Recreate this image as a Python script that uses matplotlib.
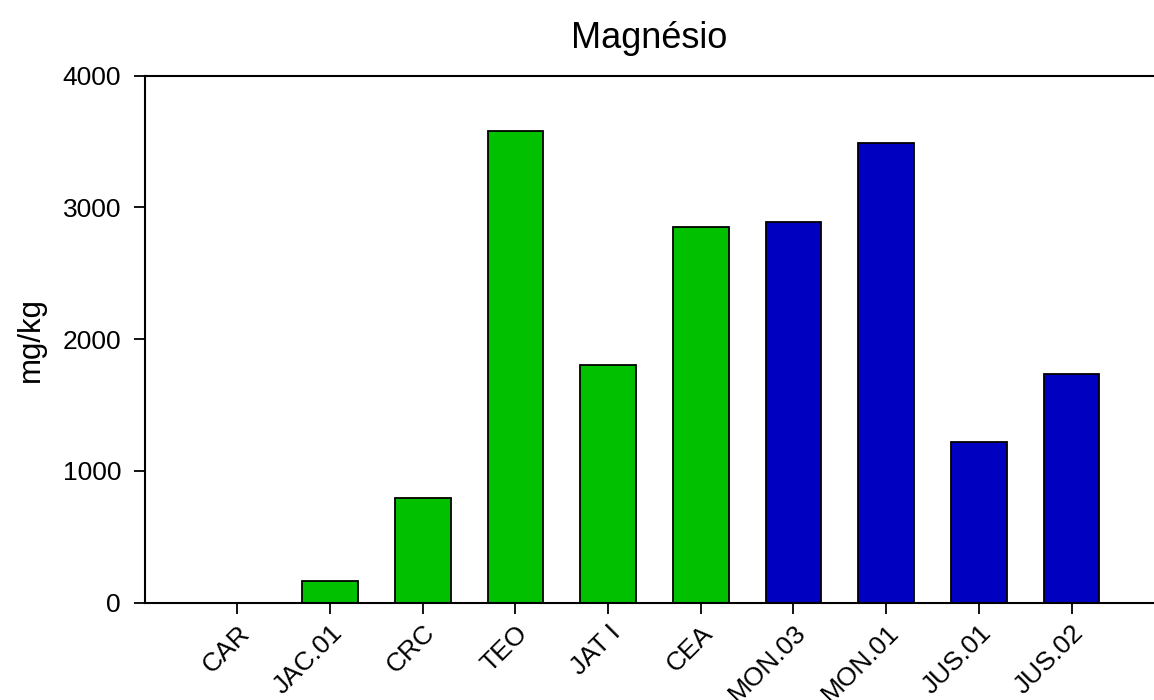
import matplotlib.pyplot as plt

plt.rcParams["font.family"] = ["Liberation Sans", "DejaVu Sans"]

# Sample sites and magnesium concentration (mg/kg)
sites = ["CAR", "JAC.01", "CRC", "TEO", "JAT I", "CEA",
         "MON.03", "MON.01", "JUS.01", "JUS.02"]
magnesio = [0, 167, 795, 3576, 1803, 2848, 2886, 3490, 1220, 1735]
groups = ["g", "g", "g", "g", "g", "g", "b", "b", "b", "b"]

group_colors = {"g": "#00C000", "b": "#0000C0"}


def main():
    fig = plt.figure(figsize=(11.54, 7.0), dpi=100)
    ax = fig.add_axes([0.1254, 0.139, 0.8746, 0.753])

    x = range(len(sites))
    colors = [group_colors[g] for g in groups]
    ax.bar(x, magnesio, width=0.6, color=colors, edgecolor="black",
           linewidth=1.3, zorder=2)

    ax.set_xlim(-1, 9.89)
    ax.set_ylim(0, 4000)
    ax.set_yticks([0, 1000, 2000, 3000, 4000])
    ax.set_xticks(list(x))
    ax.set_xticklabels(sites, rotation=45, ha="right", va="top",
                       rotation_mode="anchor")

    ax.tick_params(axis="both", direction="out", length=8, width=1.3,
                   labelsize=19, pad=9)
    ax.tick_params(axis="x", pad=5)

    for side in ["left", "bottom", "top"]:
        ax.spines[side].set_linewidth(1.5)
    ax.spines["right"].set_visible(False)

    ax.set_ylabel("mg/kg", fontsize=22.5, labelpad=12)
    ax.set_title("Magnésio", fontsize=26, pad=20)

    fig.savefig("out.png", dpi=100)


if __name__ == "__main__":
    main()
